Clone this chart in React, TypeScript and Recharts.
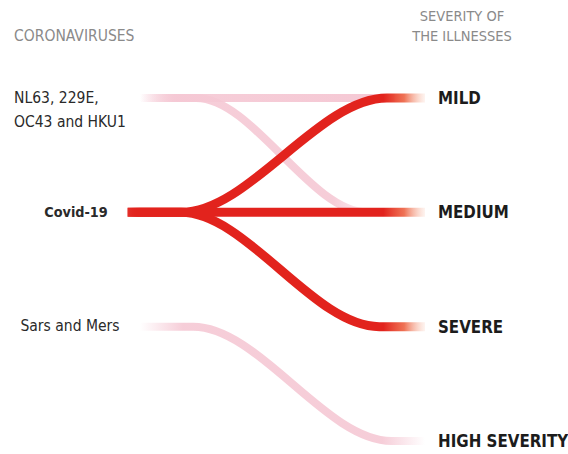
import React from "react";
import { LineChart, Line, XAxis, YAxis } from "recharts";

// ---- data ----
const sourceLabels = ["NL63, 229E,|OC43 and HKU1", "Covid-19", "Sars and Mers"];
const sourceRows = [0, 1, 2];
const targetLabels = ["MILD", "MEDIUM", "SEVERE", "HIGH SEVERITY"];
const targetRows = [0, 1, 2, 3];

// flow paths: x = progress along the flow (0-100), row = level
const nl63ToMild = [
  { x: 6.6, row: 0 },
  { x: 90, row: 0 },
];
const nl63ToMedium = [
  { x: 6.6, row: 0 },
  { x: 25, row: 0 },
  { x: 81, row: 1 },
];
const sarsToHigh = [
  { x: 6.6, row: 2 },
  { x: 24, row: 2 },
  { x: 89, row: 3 },
  { x: 100, row: 3 },
];
const covidToMild = [
  { x: 2.5, row: 1 },
  { x: 20, row: 1 },
  { x: 87.5, row: 0 },
  { x: 100, row: 0 },
];
const covidToMedium = [
  { x: 2.5, row: 1 },
  { x: 100, row: 1 },
];
const covidToSevere = [
  { x: 2.5, row: 1 },
  { x: 20, row: 1 },
  { x: 85, row: 2 },
  { x: 100, row: 2 },
];

// ---- layout ----
const W = 568;
const H = 454;
const LEFT_AXIS_W = 120;
const RIGHT_AXIS_W = 143;
const PLOT_W = W - LEFT_AXIS_W - RIGHT_AXIS_W;
const px = (v: number) => LEFT_AXIS_W + (v / 100) * PLOT_W;

const FONT = "'DejaVu Sans Condensed', 'Liberation Sans Narrow', 'Roboto', sans-serif";
const RED = "#e2231d";
const PINK = "#f5c8d4";

// sankey-style curve: horizontal tangents, control points at a fraction of the span
const K = 0.33;
const sankeyCurve: any = (context: any) => {
  let n = 0;
  let x0 = 0;
  let y0 = 0;
  return {
    areaStart() {},
    areaEnd() {},
    lineStart() {
      n = 0;
    },
    lineEnd() {},
    point(x: number, y: number) {
      x = +x;
      y = +y;
      if (n === 0) context.moveTo(x, y);
      else if (y === y0) context.lineTo(x, y);
      else {
        const dx = x - x0;
        context.bezierCurveTo(x0 + K * dx, y0, x - K * dx, y, x, y);
      }
      n++;
      x0 = x;
      y0 = y;
    },
  };
};

const leftStyle = [
  { anchor: "start", dxFromLeft: 14 },
  { anchor: "middle", dxFromLeft: 76 },
  { anchor: "middle", dxFromLeft: 70 },
];

const LeftTick = (props: any) => {
  const { y, payload } = props;
  const idx = sourceRows.indexOf(payload.value);
  const label = sourceLabels[idx] || "";
  const lines = label.split("|");
  const bold = label === "Covid-19";
  const st = leftStyle[idx] || leftStyle[2];
  return (
    <text
      x={st.dxFromLeft}
      y={y}
      textAnchor={st.anchor}
      fontFamily={FONT}
      fontSize={bold ? 14.3 : 15.5}
      fontWeight={bold ? 700 : 400}
      fill="#2a2a2a"
    >
      {lines.map((l, i) => (
        <tspan key={i} x={st.dxFromLeft} dy={i === 0 ? "0.3em" : 24}>
          {l}
        </tspan>
      ))}
    </text>
  );
};

const RightTick = (props: any) => {
  const { x, y, payload } = props;
  const label = targetLabels[targetRows.indexOf(payload.value)] || "";
  return (
    <text x={x + 13} y={y} dy="0.35em" textAnchor="start" fontFamily={FONT} fontSize={16.8} fontWeight={700} fill="#1c1c1c">
      {label}
    </text>
  );
};

export default function App() {
  return (
    <div style={{ position: "absolute", left: 0, top: 0, width: W, height: H, background: "#fff" }}>
      <div
        style={{
          position: "absolute",
          left: 14,
          top: 27,
          fontFamily: FONT,
          fontSize: 15.5,
          color: "#8a8a8a",
          whiteSpace: "nowrap",
        }}
      >
        CORONAVIRUSES
      </div>
      <div
        style={{
          position: "absolute",
          left: 402,
          width: 120,
          top: 6,
          fontFamily: FONT,
          fontSize: 14.5,
          lineHeight: "20px",
          color: "#8a8a8a",
          textAlign: "center",
          whiteSpace: "nowrap",
        }}
      >
        SEVERITY OF
        <br />
        THE ILLNESSES
      </div>
      <LineChart width={W} height={H} margin={{ top: 98, bottom: 13, left: 0, right: 0 }} style={{ position: "absolute", left: 0, top: 0 }}>
        <defs>
          <linearGradient id="gRed" gradientUnits="userSpaceOnUse" x1={px(2.5)} y1={0} x2={px(100)} y2={0}>
            <stop offset="0" stopColor={RED} stopOpacity={0.6} />
            <stop offset="0.04" stopColor={RED} stopOpacity={1} />
            <stop offset="0.86" stopColor={RED} stopOpacity={1} />
            <stop offset="0.93" stopColor="#ec5a38" stopOpacity={0.85} />
            <stop offset="1" stopColor="#f6b49a" stopOpacity={0.15} />
          </linearGradient>
          <linearGradient id="gPinkTop" gradientUnits="userSpaceOnUse" x1={px(6.6)} y1={0} x2={px(90)} y2={0}>
            <stop offset="0" stopColor={PINK} stopOpacity={0} />
            <stop offset="0.15" stopColor={PINK} stopOpacity={0.9} />
            <stop offset="1" stopColor={PINK} stopOpacity={1} />
          </linearGradient>
          <linearGradient id="gPinkMed" gradientUnits="userSpaceOnUse" x1={px(6.6)} y1={0} x2={px(81)} y2={0}>
            <stop offset="0" stopColor={PINK} stopOpacity={0} />
            <stop offset="0.15" stopColor={PINK} stopOpacity={0.9} />
            <stop offset="0.85" stopColor={PINK} stopOpacity={0.9} />
            <stop offset="1" stopColor={PINK} stopOpacity={0.3} />
          </linearGradient>
          <linearGradient id="gPinkSars" gradientUnits="userSpaceOnUse" x1={px(6.6)} y1={0} x2={px(100)} y2={0}>
            <stop offset="0" stopColor={PINK} stopOpacity={0} />
            <stop offset="0.15" stopColor={PINK} stopOpacity={0.9} />
            <stop offset="0.85" stopColor={PINK} stopOpacity={0.9} />
            <stop offset="1" stopColor={PINK} stopOpacity={0} />
          </linearGradient>
        </defs>
        <XAxis type="number" dataKey="x" domain={[0, 100]} hide allowDuplicatedCategory={false} />
        <YAxis
          yAxisId="left"
          orientation="left"
          type="number"
          dataKey="row"
          domain={[0, 3]}
          reversed
          ticks={sourceRows}
          width={LEFT_AXIS_W}
          axisLine={false}
          tickLine={false}
          tickSize={0}
          tickMargin={0}
          tick={<LeftTick />}
          interval={0}
        />
        <YAxis
          yAxisId="right"
          orientation="right"
          type="number"
          dataKey="row"
          domain={[0, 3]}
          reversed
          ticks={targetRows}
          width={RIGHT_AXIS_W}
          axisLine={false}
          tickLine={false}
          tickSize={0}
          tickMargin={0}
          tick={<RightTick />}
          interval={0}
        />
        <Line yAxisId="right" data={covidToMedium} dataKey="row" stroke="none" strokeWidth={0} dot={false} activeDot={false} isAnimationActive={false} />
        <Line yAxisId="left" data={nl63ToMild} dataKey="row" type={sankeyCurve} stroke="url(#gPinkTop)" strokeWidth={8} dot={false} isAnimationActive={false} />
        <Line yAxisId="left" data={nl63ToMedium} dataKey="row" type={sankeyCurve} stroke="url(#gPinkMed)" strokeWidth={8} dot={false} isAnimationActive={false} />
        <Line yAxisId="left" data={sarsToHigh} dataKey="row" type={sankeyCurve} stroke="url(#gPinkSars)" strokeWidth={8} dot={false} isAnimationActive={false} />
        <Line yAxisId="left" data={covidToMedium} dataKey="row" type={sankeyCurve} stroke="url(#gRed)" strokeWidth={9} dot={false} isAnimationActive={false} />
        <Line yAxisId="left" data={covidToSevere} dataKey="row" type={sankeyCurve} stroke="url(#gRed)" strokeWidth={9} dot={false} isAnimationActive={false} />
        <Line yAxisId="left" data={covidToMild} dataKey="row" type={sankeyCurve} stroke="url(#gRed)" strokeWidth={9} dot={false} isAnimationActive={false} />
      </LineChart>
    </div>
  );
}
